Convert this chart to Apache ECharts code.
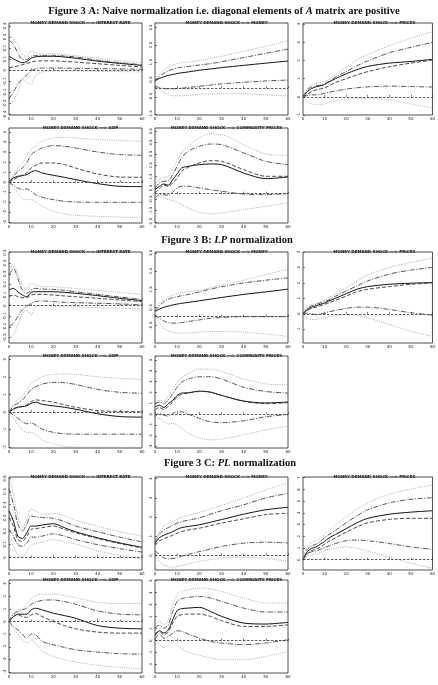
<!DOCTYPE html>
<html>
<head>
<meta charset="utf-8">
<title>Figure 3</title>
<script src="https://cdn.jsdelivr.net/npm/echarts@6/dist/echarts.min.js"></script>
<style>
html,body{margin:0;padding:0;background:#fff;}
#chart{width:438px;height:685px;}
</style>
</head>
<body>
<div id="chart"></div>
<script>
// horizons
var steps = [0, 2, 4, 6, 8, 10, 12, 15, 20, 25, 30, 40, 50, 60];
var xTicks = [0, 10, 20, 30, 40, 50, 60];

var subtitles = [
  'MONEY DEMAND SHOCK ---> INTEREST RATE',
  'MONEY DEMAND SHOCK ---> MONEY',
  'MONEY DEMAND SHOCK ---> PRICES',
  'MONEY DEMAND SHOCK ---> GDP',
  'MONEY DEMAND SHOCK ---> COMMODITY PRICES'
];

// ---------- Figure 3 A ----------
var a1Solid = [0.126,0.103,0.082,0.068,0.079,0.109,0.121,0.126,0.126,0.12,0.109,0.082,0.062,0.044];
var a1Dash  = [0.024,0.03,0.038,0.05,0.062,0.074,0.082,0.085,0.085,0.08,0.074,0.059,0.044,0.03];
var a1DdUp  = [0.274,0.229,0.156,0.097,0.097,0.126,0.132,0.132,0.135,0.128,0.12,0.091,0.068,0.05];
var a1DdLo  = [-0.256,-0.197,-0.124,-0.079,-0.044,-0.006,0.015,0.02,0.02,0.019,0.018,0.015,0.012,0.009];
var a1DotUp = [0.318,0.288,0.229,0.141,0.126,0.171,0.156,0.147,0.15,0.142,0.132,0.109,0.085,0.068];
var a1DotLo = [-0.32,-0.27,-0.197,-0.079,-0.109,-0.124,-0.044,-0.015,-0.006,-0.006,-0.006,-0.009,-0.012,-0.015];
var a1Range = [-0.403, 0.426];
var a1Ticks = [-0.4,-0.3,-0.2,-0.1,0,0.1,0.2,0.3,0.4];

var a2Solid = [0.43,0.57,0.66,0.74,0.79,0.85,0.89,0.94,1.04,1.11,1.19,1.32,1.45,1.57];
var a2Dash  = null;
var a2DdUp  = [0.38,0.68,0.87,1.0,1.09,1.17,1.21,1.26,1.34,1.42,1.53,1.77,2.02,2.26];
var a2DdLo  = [0.11,0.04,-0.02,-0.04,-0.04,-0.02,0.0,0.04,0.11,0.18,0.25,0.34,0.42,0.47];
var a2DotUp = [0.43,0.81,1.06,1.23,1.34,1.42,1.46,1.51,1.6,1.72,1.85,2.13,2.42,2.75];
var a2DotLo = [0.25,-0.04,-0.26,-0.38,-0.43,-0.45,-0.44,-0.42,-0.36,-0.34,-0.32,-0.32,-0.38,-0.45];
var a2Range = [-1.55, 3.77];
var a2Ticks = [-1.5,-0.5,0.5,1.5,2.5,3.5];

var a3Solid = [0,0.29,0.46,0.55,0.61,0.68,0.82,1.0,1.27,1.5,1.68,1.86,1.95,2.07];
var a3Dash  = [0,0.14,0.29,0.38,0.43,0.5,0.61,0.79,1.0,1.21,1.39,1.66,1.86,2.02];
var a3DdUp  = [0,0.38,0.55,0.61,0.64,0.73,0.86,1.09,1.39,1.71,1.98,2.43,2.73,3.0];
var a3DdLo  = [0,0.07,0.11,0.11,0.14,0.2,0.25,0.32,0.43,0.5,0.55,0.59,0.57,0.54];
var a3DotUp = [0,0.46,0.68,0.73,0.79,0.86,0.96,1.21,1.63,2.04,2.34,2.82,3.23,3.59];
var a3DotLo = [0,-0.25,-0.39,-0.43,-0.43,-0.39,-0.3,-0.21,-0.13,-0.07,-0.07,-0.16,-0.39,-0.61];
var a3Range = [-1.0, 4.07];
var a3Ticks = [-1,0,1,2,3,4];

var a4Solid = [0,0.43,0.6,0.67,0.77,1.03,1.17,0.93,0.7,0.5,0.27,-0.13,-0.4,-0.43];
var a4Dash  = [0,0.27,0.5,0.7,0.93,1.43,1.7,1.93,1.93,1.77,1.43,0.83,0.53,0.5];
var a4DdUp  = [0,0.6,1.1,1.43,1.93,2.77,3.1,3.43,3.67,3.6,3.43,3.03,2.77,2.7];
var a4DdLo  = [0,-0.3,-0.57,-0.73,-0.67,-0.9,-1.23,-1.5,-1.73,-1.9,-1.97,-2.0,-2.0,-2.0];
var a4DotUp = [0,0.77,1.43,1.93,2.6,3.27,3.6,4.1,4.43,4.5,4.43,4.27,4.17,4.1];
var a4DotLo = [0,-0.57,-1.07,-1.57,-1.73,-1.73,-1.97,-2.4,-2.9,-3.17,-3.3,-3.4,-3.47,-3.5];
var a4Range = [-4.07, 5.43];
var a4Ticks = [-4,-3,-2,-1,0,1,2,3,4,5];

var a5Solid = [0.35,0.65,0.85,0.74,1.24,1.74,2.26,2.41,2.56,2.62,2.56,1.82,1.32,1.47];
var a5Dash  = [0.06,0.44,0.74,0.65,0.94,1.38,1.97,2.32,2.71,2.91,2.85,2.12,1.53,1.53];
var a5DdUp  = [0.5,0.94,1.09,1.15,1.68,2.41,3.15,3.74,4.18,4.38,4.32,3.59,2.85,2.56];
var a5DdLo  = [-0.38,-0.09,-0.09,-0.15,0.15,0.5,0.65,0.65,0.5,0.35,0.21,-0.03,-0.09,0.0];
var a5DotUp = [0.79,1.24,1.44,1.53,2.12,2.85,3.59,4.18,4.91,5.26,5.21,4.32,3.5,3.38];
var a5DotLo = [-0.74,-0.24,-0.38,-0.53,-0.62,-0.74,-0.97,-1.26,-1.65,-1.79,-1.71,-1.41,-1.12,-0.82];
var a5Range = [-2.59, 5.79];
var a5Ticks = [-2.5,-1.5,-0.5,0.5,1.5,2.5,3.5,4.5,5.5];

// ---------- Figure 3 B ----------
var b1Solid = [0.147,0.163,0.131,0.1,0.084,0.125,0.131,0.131,0.131,0.125,0.116,0.094,0.069,0.047];
var b1Dash  = [0.084,0.1,0.084,0.075,0.075,0.1,0.106,0.106,0.1,0.091,0.084,0.069,0.053,0.038];
var b1DdUp  = [0.288,0.35,0.256,0.147,0.116,0.147,0.163,0.156,0.153,0.144,0.131,0.106,0.081,0.059];
var b1DdLo  = [-0.197,-0.166,-0.103,-0.041,-0.009,0.022,0.038,0.044,0.038,0.031,0.028,0.022,0.016,0.006];
var b1DotUp = [0.35,0.375,0.303,0.194,0.163,0.209,0.194,0.178,0.178,0.169,0.163,0.144,0.125,0.106];
var b1DotLo = [-0.306,-0.275,-0.181,-0.072,-0.041,-0.088,-0.009,0,-0.003,-0.009,-0.013,-0.019,-0.025,-0.031];
var b1Range = [-0.353, 0.506];
var b1Ticks = [-0.3,-0.2,-0.1,0,0.1,0.2,0.3,0.4,0.5];

var b2Solid = [0.27,0.42,0.51,0.58,0.64,0.69,0.73,0.78,0.87,0.96,1.05,1.22,1.36,1.51];
var b2Dash  = null;
var b2DdUp  = [0.31,0.6,0.82,0.96,1.04,1.09,1.15,1.22,1.36,1.51,1.64,1.85,2.0,2.13];
var b2DdLo  = [0.09,-0.09,-0.24,-0.33,-0.36,-0.36,-0.33,-0.27,-0.18,-0.09,-0.05,0,0,0];
var b2DotUp = [0.27,0.73,0.95,1.09,1.18,1.27,1.33,1.36,1.45,1.58,1.73,2.0,2.31,2.6];
var b2DotLo = [0.13,-0.36,-0.64,-0.78,-0.85,-0.91,-0.91,-0.91,-0.85,-0.82,-0.82,-0.85,-0.96,-1.09];
var b2Range = [-1.45, 3.55];
var b2Ticks = [-0.5,0.5,1.5,2.5,3.5];

var b3Solid = [0,0.28,0.43,0.52,0.61,0.7,0.83,1.0,1.3,1.59,1.76,1.91,1.98,2.02];
var b3Dash  = [0,0.22,0.35,0.43,0.52,0.61,0.72,0.87,1.15,1.43,1.59,1.76,1.91,2.0];
var b3DdUp  = [0,0.35,0.52,0.61,0.7,0.78,0.91,1.13,1.48,1.8,2.13,2.57,2.83,3.0];
var b3DdLo  = [0,0.04,0,-0.04,0,0.04,0.13,0.22,0.35,0.43,0.43,0.28,0.07,-0.09];
var b3DotUp = [0,0.5,0.61,0.67,0.78,0.87,1.04,1.26,1.7,2.13,2.52,3.0,3.33,3.61];
var b3DotLo = [0,-0.26,-0.37,-0.37,-0.3,-0.26,-0.2,-0.11,-0.04,-0.09,-0.26,-0.7,-1.13,-1.46];
var b3Range = [-1.89, 4.0];
var b3Ticks = [-1,0,1,2,3,4];

var b4Solid = [0,0.17,0.28,0.32,0.36,0.51,0.57,0.45,0.36,0.28,0.17,-0.09,-0.25,-0.28];
var b4Dash  = [0,0.21,0.28,0.32,0.42,0.6,0.7,0.66,0.57,0.42,0.28,0.09,0.04,0.02];
var b4DdUp  = [0,0.36,0.51,0.7,0.98,1.3,1.45,1.6,1.7,1.68,1.58,1.3,1.13,1.08];
var b4DdLo  = [0,-0.15,-0.34,-0.53,-0.66,-0.62,-0.72,-0.96,-1.15,-1.23,-1.25,-1.25,-1.25,-1.25];
var b4DotUp = [0,0.47,0.7,0.92,1.26,1.64,1.79,2.02,2.15,2.17,2.15,2.02,1.92,1.87];
var b4DotLo = [0,-0.34,-0.72,-1.0,-1.15,-1.15,-1.28,-1.57,-1.81,-1.94,-1.98,-2.0,-2.0,-2.0];
var b4Range = [-2.04, 3.2];
var b4Ticks = [-2,-1,0,1,2,3];

var b5Solid = [0.67,0.82,0.61,0.97,1.27,1.73,1.94,1.97,2.12,2.03,1.73,1.21,1.03,1.12];
var b5Dash  = [0.36,0.61,0.42,0.73,1.12,1.58,1.82,1.94,2.09,2.03,1.73,1.18,0.97,1.06];
var b5DdUp  = [0.97,1.12,0.97,1.33,1.88,2.48,2.94,3.24,3.45,3.45,3.24,2.48,2.09,1.94];
var b5DdLo  = [-0.24,0.06,-0.09,-0.18,0.06,0.21,0.21,0,-0.39,-0.7,-0.79,-0.61,-0.24,-0.03];
var b5DotUp = [1.27,1.27,1.21,1.64,2.33,2.94,3.39,3.76,4.15,4.15,3.94,3.24,2.79,2.7];
var b5DotLo = [-0.39,-0.39,-0.7,-0.91,-0.85,-1.0,-1.3,-1.76,-2.21,-2.36,-2.3,-1.91,-1.45,-1.09];
var b5Range = [-3.12, 5.36];
var b5Ticks = [-3,-2,-1,0,1,2,3,4,5];

// ---------- Figure 3 C ----------
var c1Solid = [0.354,0.277,0.162,0.144,0.187,0.238,0.238,0.246,0.256,0.226,0.195,0.149,0.11,0.077];
var c1Dash  = [0.303,0.238,0.136,0.123,0.162,0.213,0.218,0.226,0.238,0.213,0.187,0.144,0.105,0.072];
var c1DdUp  = [0.521,0.405,0.251,0.2,0.251,0.315,0.308,0.303,0.297,0.272,0.238,0.195,0.154,0.118];
var c1DdLo  = [0.213,0.162,0.097,0.085,0.11,0.154,0.154,0.162,0.179,0.162,0.136,0.097,0.067,0.041];
var c1DotUp = [0.597,0.482,0.303,0.226,0.29,0.367,0.354,0.328,0.333,0.315,0.282,0.238,0.195,0.162];
var c1DotLo = [0.149,0.085,0.021,0.008,0.046,0.097,0.103,0.118,0.136,0.118,0.103,0.051,0.015,-0.01];
var c1Range = [-0.095, 0.61];
var c1Ticks = [0,0.1,0.2,0.3,0.4,0.5,0.6];

var c2Solid = [0.6,0.93,1.05,1.15,1.24,1.36,1.45,1.51,1.6,1.73,1.87,2.15,2.38,2.51];
var c2Dash  = [0.51,0.75,0.87,0.96,1.05,1.15,1.24,1.33,1.42,1.55,1.69,1.91,2.13,2.2];
var c2DdUp  = [0.69,1.11,1.33,1.45,1.56,1.69,1.76,1.84,1.96,2.15,2.33,2.64,3.0,3.24];
var c2DdLo  = [0.24,0.05,-0.13,-0.18,-0.16,-0.13,-0.04,0.05,0.2,0.33,0.47,0.64,0.69,0.65];
var c2DotUp = [0.78,1.24,1.51,1.65,1.78,1.91,2.0,2.09,2.24,2.42,2.6,3.0,3.42,3.78];
var c2DotLo = [0.05,-0.31,-0.49,-0.58,-0.62,-0.58,-0.53,-0.45,-0.31,-0.22,-0.13,-0.09,-0.16,-0.31];
var c2Range = [-0.76, 4.09];
var c2Ticks = [0,1,2,3,4];

var c3Solid = [0,0.68,0.97,1.09,1.32,1.56,1.85,2.15,2.65,3.15,3.53,3.88,4.06,4.18];
var c3Dash  = [0,0.5,0.79,0.88,1.09,1.32,1.56,1.85,2.35,2.79,3.15,3.44,3.53,3.53];
var c3DdUp  = [0,0.88,1.18,1.32,1.56,1.85,2.15,2.5,3.15,3.74,4.26,4.85,5.15,5.29];
var c3DdLo  = [0,0.5,0.68,0.74,0.88,1.03,1.18,1.38,1.62,1.68,1.62,1.38,1.09,0.88];
var c3DotUp = [0,1.09,1.47,1.62,1.85,2.15,2.5,2.94,3.68,4.32,4.85,5.59,6.03,6.38];
var c3DotLo = [0,0.29,0.44,0.5,0.59,0.79,0.88,0.97,1.09,0.97,0.74,0.21,-0.29,-0.74];
var c3Range = [-0.88, 7.06];
var c3Ticks = [0,1,2,3,4,5,6,7];

var c4Solid = [0,0.39,0.58,0.58,0.58,0.92,1.05,0.92,0.66,0.47,0.26,-0.32,-0.53,-0.58];
var c4Dash  = [0,0.39,0.53,0.39,0.32,0.53,0.63,0.39,0,-0.32,-0.58,-0.84,-0.92,-0.92];
var c4DdUp  = [0,0.58,0.79,0.92,1.05,1.37,1.53,1.68,1.71,1.58,1.37,0.84,0.58,0.53];
var c4DdLo  = [0,-0.39,-0.66,-1.0,-1.32,-1.0,-1.05,-1.58,-1.84,-2.05,-2.24,-2.42,-2.55,-2.58];
var c4DotUp = [0,0.66,0.92,1.05,1.32,1.84,2.05,2.16,2.16,2.05,1.89,1.53,1.42,1.45];
var c4DotLo = [0,-0.53,-1.0,-1.45,-1.71,-1.45,-1.71,-2.37,-2.76,-3.03,-3.21,-3.47,-3.63,-3.76];
var c4Range = [-4.08, 3.29];
var c4Ticks = [-4,-3,-2,-1,0,1,2,3];

var c5Solid = [0.44,0.83,0.64,0.92,1.75,2.5,2.67,2.72,2.78,2.44,2.03,1.47,1.39,1.53];
var c5Dash  = [0.56,0.78,0.5,0.72,1.47,2.03,2.17,2.22,2.22,2.03,1.67,1.19,1.19,1.33];
var c5DdUp  = [1.06,1.28,1.06,1.33,2.44,3.28,3.5,3.61,3.69,3.56,3.28,2.72,2.39,2.39];
var c5DdLo  = [0.17,0.56,0.22,0.36,0.64,0.83,0.78,0.56,0.22,-0.06,-0.19,-0.33,-0.19,0.08];
var c5DotUp = [1.33,1.61,1.33,1.75,3.0,3.83,4.11,4.25,4.39,4.33,4.11,3.56,3.14,3.14];
var c5DotLo = [-0.06,-0.33,-0.56,-0.39,-0.06,-0.33,-0.67,-0.94,-1.22,-1.44,-1.58,-1.58,-1.31,-0.89];
var c5Range = [-2.69, 5.06];
var c5Ticks = [-2,-1,0,1,2,3,4,5];

// ---------- layout ----------
var colLeft = [9, 155, 303];
var colWidth = [133, 133, 133];
var rowTop = [23, 128, 252, 356, 477, 580];
var rowHeight = [92, 95, 91, 92, 93, 93];

var charts = [
  [a1Solid,a1Dash,a1DdUp,a1DdLo,a1DotUp,a1DotLo,a1Range,a1Ticks],
  [a2Solid,a2Dash,a2DdUp,a2DdLo,a2DotUp,a2DotLo,a2Range,a2Ticks],
  [a3Solid,a3Dash,a3DdUp,a3DdLo,a3DotUp,a3DotLo,a3Range,a3Ticks],
  [a4Solid,a4Dash,a4DdUp,a4DdLo,a4DotUp,a4DotLo,a4Range,a4Ticks],
  [a5Solid,a5Dash,a5DdUp,a5DdLo,a5DotUp,a5DotLo,a5Range,a5Ticks],
  [b1Solid,b1Dash,b1DdUp,b1DdLo,b1DotUp,b1DotLo,b1Range,b1Ticks],
  [b2Solid,b2Dash,b2DdUp,b2DdLo,b2DotUp,b2DotLo,b2Range,b2Ticks],
  [b3Solid,b3Dash,b3DdUp,b3DdLo,b3DotUp,b3DotLo,b3Range,b3Ticks],
  [b4Solid,b4Dash,b4DdUp,b4DdLo,b4DotUp,b4DotLo,b4Range,b4Ticks],
  [b5Solid,b5Dash,b5DdUp,b5DdLo,b5DotUp,b5DotLo,b5Range,b5Ticks],
  [c1Solid,c1Dash,c1DdUp,c1DdLo,c1DotUp,c1DotLo,c1Range,c1Ticks],
  [c2Solid,c2Dash,c2DdUp,c2DdLo,c2DotUp,c2DotLo,c2Range,c2Ticks],
  [c3Solid,c3Dash,c3DdUp,c3DdLo,c3DotUp,c3DotLo,c3Range,c3Ticks],
  [c4Solid,c4Dash,c4DdUp,c4DdLo,c4DotUp,c4DotLo,c4Range,c4Ticks],
  [c5Solid,c5Dash,c5DdUp,c5DdLo,c5DotUp,c5DotLo,c5Range,c5Ticks]
];

// solid, dashed, dash-dot (x2), dotted (x2)
var lineStyles = [
  {color: '#111', width: 1, type: 'solid'},
  {color: '#333', width: 0.9, type: [4, 2]},
  {color: '#444', width: 0.9, type: [5, 1.5, 1, 1.5]},
  {color: '#444', width: 0.9, type: [5, 1.5, 1, 1.5]},
  {color: '#999', width: 0.8, type: [1, 1.2]},
  {color: '#999', width: 0.8, type: [1, 1.2]}
];

var titleRich = {
  b: {fontFamily: 'Liberation Serif', fontWeight: 'bold', fontSize: 10.5, color: '#111'},
  i: {fontFamily: 'Liberation Serif', fontWeight: 'bold', fontStyle: 'italic', fontSize: 10.5, color: '#111'}
};

var grids = [], xAxes = [], yAxes = [], series = [];
var titles = [
  {text: '{b|Figure 3 A: Naive normalization i.e. diagonal elements of }{i|A}{b| matrix are positive}',
   left: 219, top: 1, textAlign: 'center', textStyle: {rich: titleRich}},
  {text: '{b|Figure 3 B: }{i|LP}{b| normalization}',
   left: 222, top: 230, textAlign: 'center', textStyle: {rich: titleRich}},
  {text: '{b|Figure 3 C: }{i|PL}{b| normalization}',
   left: 225, top: 453, textAlign: 'center', textStyle: {rich: titleRich}}
];

function fmt(v) {
  var r = Math.round(v * 100) / 100;
  return r === 0 ? '0' : String(r);
}

charts.forEach(function (c, i) {
  var p = Math.floor(i / 5), j = i % 5;
  var row = 2 * p + (j < 3 ? 0 : 1);
  var col = j < 3 ? j : j - 3;
  var left = colLeft[col], top = rowTop[row];
  grids.push({left: left, top: top, width: colWidth[col], height: rowHeight[row],
    show: true, borderColor: '#222', borderWidth: 0.8, backgroundColor: 'transparent'});
  titles.push({text: subtitles[j], left: left + colWidth[col] / 2, top: top - 7, textAlign: 'center',
    textStyle: {fontFamily: 'DejaVu Sans', fontWeight: 'bold', fontSize: 4, color: '#222'}});
  xAxes.push({type: 'value', gridIndex: i, min: 0, max: 60,
    axisLine: {show: false},
    axisTick: {inside: true, length: 2, lineStyle: {color: '#222', width: 0.6}, customValues: xTicks},
    axisLabel: {fontSize: 4, margin: 2, color: '#222', fontFamily: 'DejaVu Sans', customValues: xTicks},
    splitLine: {show: false}});
  yAxes.push({type: 'value', gridIndex: i, min: c[6][0], max: c[6][1],
    axisLine: {show: false},
    axisTick: {inside: true, length: 2, lineStyle: {color: '#222', width: 0.6}, customValues: c[7]},
    axisLabel: {fontSize: 4, margin: 2, rotate: 90, color: '#222', fontFamily: 'DejaVu Sans',
      customValues: c[7], formatter: fmt},
    splitLine: {show: false}});
  for (var k = 0; k < 6; k++) {
    if (!c[k]) continue;
    var vals = c[k];
    var s = {
      type: 'line', xAxisIndex: i, yAxisIndex: i, showSymbol: false, smooth: 0.3,
      silent: true, lineStyle: lineStyles[k],
      data: steps.map(function (x, n) { return [x, vals[n]]; })
    };
    if (k === 0) {
      s.markLine = {silent: true, symbol: ['none', 'none'], label: {show: false},
        lineStyle: {color: '#333', width: 0.8, type: [2.5, 1.5]}, data: [{yAxis: 0}]};
    }
    series.push(s);
  }
});

var chart = echarts.init(document.getElementById('chart'), null, {renderer: 'canvas'});
chart.setOption({
  animation: false,
  backgroundColor: '#fff',
  title: titles,
  grid: grids,
  xAxis: xAxes,
  yAxis: yAxes,
  series: series
});
</script>
</body>
</html>
